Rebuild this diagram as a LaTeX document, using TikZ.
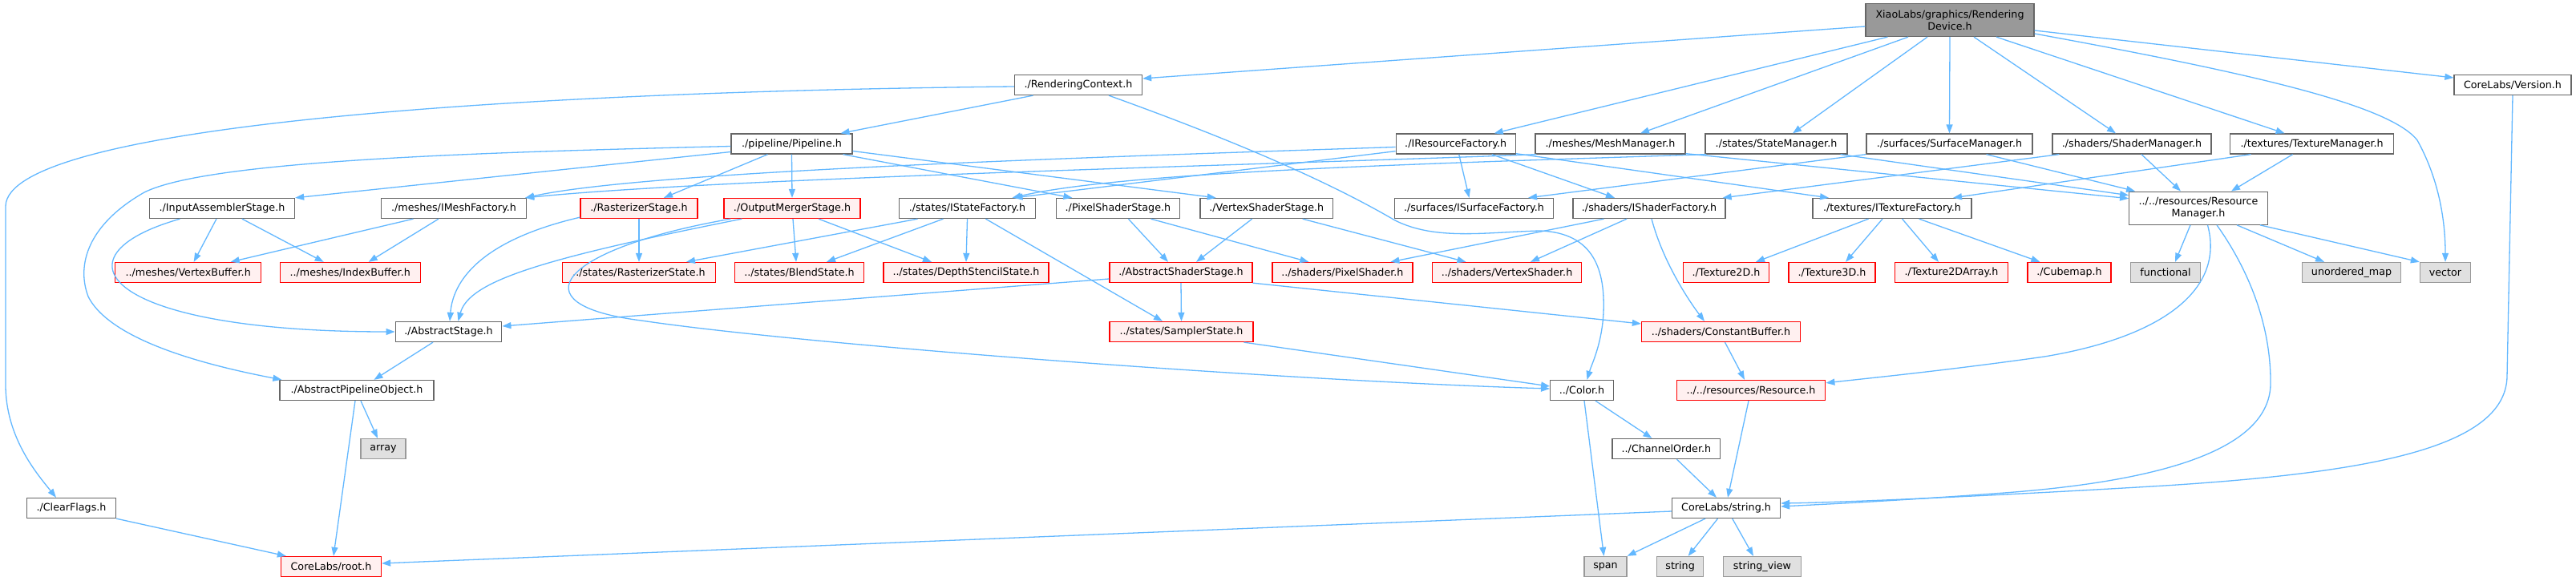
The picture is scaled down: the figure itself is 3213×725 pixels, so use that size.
\documentclass[tikz,border=0pt]{standalone}
\usepackage{fontspec}
\setmainfont{DejaVu Sans}
\usetikzlibrary{calc,arrows.meta}
\definecolor{edgec}{HTML}{63B8FF}
\definecolor{bordergray}{HTML}{666666}
\definecolor{lightborder}{HTML}{999999}
\definecolor{grayfill}{HTML}{E0E0E0}
\definecolor{redfill}{HTML}{FFF0F0}
\definecolor{rootfill}{HTML}{999999}
\newcommand\dvfont{\fontsize{12.7}{15}\selectfont}
\begin{document}
\begin{tikzpicture}[x=1pt,y=-1pt,
  nb/.style={draw=bordergray, fill=white, line width=1.3pt, minimum height=25pt, inner sep=0pt, font=\dvfont, text=black, align=center},
  nr/.style={nb, draw=red, fill=redfill},
  ng/.style={nb, draw=lightborder, fill=grayfill},
  e/.style={draw=edgec, line width=1.3pt, -{Triangle[length=11pt,width=8pt]}}]
\useasboundingbox (0,0) rectangle (3213,725);
\fill[white] (0,0) rectangle (3213,725);
% row 0-2
\node[nb, fill=rootfill, minimum width=210pt, minimum height=41pt] (rd) at (2432,25) {XiaoLabs/graphics/Rendering\\Device.h};
\node[nb, minimum width=159pt] (rc) at (1345,106) {./RenderingContext.h};
\node[nb, minimum width=146pt] (ver) at (3134,106) {CoreLabs/Version.h};
\node[nb, minimum width=151pt] (pipe) at (987.5,179.5) {./pipeline/Pipeline.h};
\node[nb, minimum width=149pt] (irf) at (1815.7,179.5) {./IResourceFactory.h};
\node[nb, minimum width=187pt] (mm) at (2008.5,179.5) {./meshes/MeshManager.h};
\node[nb, minimum width=177pt] (stm) at (2215.5,179.5) {./states/StateManager.h};
\node[nb, minimum width=207pt] (sfm) at (2431.5,179.5) {./surfaces/SurfaceManager.h};
\node[nb, minimum width=198pt] (shm) at (2659,179.5) {./shaders/ShaderManager.h};
\node[nb, minimum width=204pt] (tm) at (2883.6,179.5) {./textures/TextureManager.h};
% row 3
\node[nb, minimum width=181pt] (ias) at (277,260) {./InputAssemblerStage.h};
\node[nb, minimum width=181pt] (imf) at (566,260) {./meshes/IMeshFactory.h};
\node[nr, minimum width=146pt] (rs) at (797,260) {./RasterizerStage.h};
\node[nr, minimum width=170pt] (oms) at (988,260) {./OutputMergerStage.h};
\node[nb, minimum width=170pt] (isf) at (1206.5,260) {./states/IStateFactory.h};
\node[nb, minimum width=154pt] (pss) at (1394.4,260) {./PixelShaderStage.h};
\node[nb, minimum width=165.5pt] (vss) at (1579.7,260) {./VertexShaderStage.h};
\node[nb, minimum width=198pt] (isurf) at (1838.5,260) {./surfaces/ISurfaceFactory.h};
\node[nb, minimum width=190pt] (ishf) at (2057,260) {./shaders/IShaderFactory.h};
\node[nb, minimum width=198pt] (itf) at (2360,260) {./textures/ITextureFactory.h};
\node[nb, minimum width=172.6pt, minimum height=41pt] (rm) at (2742,259.7) {../../resources/Resource\\Manager.h};
% row 4
\node[nr, minimum width=182pt] (vb) at (234.7,340) {../meshes/VertexBuffer.h};
\node[nr, minimum width=175pt] (ib) at (436.7,340) {../meshes/IndexBuffer.h};
\node[nr, minimum width=191pt] (rst) at (797,340) {../states/RasterizerState.h};
\node[nr, minimum width=161pt] (bs) at (997,340) {../states/BlendState.h};
\node[nr, minimum width=206pt] (dss) at (1205,340) {../states/DepthStencilState.h};
\node[nr, minimum width=178pt] (ass) at (1473,340) {./AbstractShaderStage.h};
\node[nr, minimum width=175pt] (ps) at (1674.4,340) {../shaders/PixelShader.h};
\node[nr, minimum width=186pt] (vs) at (1879.5,340) {../shaders/VertexShader.h};
\node[nr, minimum width=107pt] (t2d) at (2153,340) {./Texture2D.h};
\node[nr, minimum width=108pt] (t3d) at (2285,340) {./Texture3D.h};
\node[nr, minimum width=141pt] (t2da) at (2434,340) {./Texture2DArray.h};
\node[nr, minimum width=104pt] (cube) at (2581,340) {./Cubemap.h};
\node[ng, minimum width=87pt] (func) at (2701,340) {functional};
\node[ng, minimum width=123.5pt] (umap) at (2933,340) {unordered\_map};
\node[ng, minimum width=63pt] (vec) at (3050,340) {vector};
% row 5-9
\node[nb, minimum width=132.6pt] (as) at (559.5,414) {./AbstractStage.h};
\node[nr, minimum width=179pt] (ss) at (1473.5,414) {../states/SamplerState.h};
\node[nr, minimum width=198pt] (cb) at (2146.5,414) {../shaders/ConstantBuffer.h};
\node[nb, minimum width=192pt] (apo) at (445,487) {./AbstractPipelineObject.h};
\node[nb, minimum width=78.6pt] (col) at (1973,487) {../Color.h};
\node[nr, minimum width=185.5pt] (res) at (2184,487) {../../resources/Resource.h};
\node[ng, minimum width=56pt] (arr) at (478,560) {array};
\node[nb, minimum width=134.7pt] (co) at (2078.4,560) {../ChannelOrder.h};
\node[nb, minimum width=111pt] (cf) at (89,634) {./ClearFlags.h};
\node[nb, minimum width=135pt] (str) at (2153,634) {CoreLabs/string.h};
\node[nr, minimum width=125pt] (root) at (413,707) {CoreLabs/root.h};
\node[ng, minimum width=53pt] (nspan) at (2002.5,707) {span};
\node[ng, minimum width=58pt] (nstring) at (2095.6,707) {string};
\node[ng, minimum width=97pt] (sv) at (2198,707) {string\_view};
% RD edges
\draw[e] ($(rd.west)+(0,8)$) -- ($(rc.east)+(0,-8)$);
\draw[e] ($(rd.south west)+(28,0)$) -- ($(irf.north)+(48,0)$);
\draw[e] ($(rd.south)+(-52,0)$) -- ($(mm.north)+(37.5,0)$);
\draw[e] ($(rd.south)+(-28,0)$) -- ($(stm.north)+(20.5,0)$);
\draw[e] (rd.south) -- (sfm.north);
\draw[e] ($(rd.south)+(30,0)$) -- ($(shm.north)+(-20,0)$);
\draw[e] ($(rd.south)+(58,0)$) -- ($(tm.north)+(-34,0)$);
\draw[e] ($(rd.east)+(0,13)$) -- ($(ver.west)+(0,-9)$);
\draw[e] ($(rd.east)+(0,17)$) .. controls (2800,90) and (2980,130) .. (3015,175) .. controls (3040,220) and (3050,270) .. (vec.north);
% RC edges
\draw[e] ($(rc.south)+(-56.5,0)$) -- ($(pipe.north)+(61,0)$);
\draw[e] ($(rc.west)+(0,2)$) .. controls (600,115) and (10,160) .. (7,257) -- (7,480) .. controls (7,545) and (45,590) .. ($(cf.north)+(-19,0)$);
\draw[e] ($(rc.south)+(38,0)$) .. controls (1580,190) and (1680,240) .. (1740,275) .. controls (1790,300) and (1850,290) .. (1920,288) .. controls (1990,290) and (2002,340) .. (2000,390) .. controls (1998,430) and (1985,455) .. ($(col.north)+(6.5,0)$);
% Pipeline edges
\draw[e] ($(pipe.west)+(0,3)$) .. controls (600,190) and (260,200) .. (180,240) .. controls (110,280) and (95,330) .. (110,370) .. controls (140,430) and (280,460) .. ($(apo.north west)+(3,0)$);
\draw[e] ($(pipe.west)+(0,10)$) -- (ias.north east);
\draw[e] ($(pipe.south)+(-30,0)$) -- ($(rs.north)+(31,0)$);
\draw[e] (pipe.south) -- (oms.north);
\draw[e] ($(pipe.south)+(64,0)$) -- ($(pss.north)+(-57,0)$);
\draw[e] ($(pipe.east)+(0,9)$) -- ($(vss.north)+(-63,0)$);
% IResourceFactory edges
\draw[e] ($(irf.west)+(0,4)$) .. controls (1300,198) and (800,215) .. ($(imf.north east)+(-2,0)$);
\draw[e] ($(irf.south west)+(0,-4)$) -- ($(isf.north)+(58,0)$);
\draw[e] ($(irf.south)+(4,0)$) -- ($(isurf.north)+(-6,0)$);
\draw[e] ($(irf.south)+(45,0)$) -- ($(ishf.north)+(-43,0)$);
\draw[e] ($(irf.south east)+(0,-1)$) -- ($(itf.north)+(-79,0)$);
% manager edges
\draw[e] ($(mm.south west)+(2,0)$) .. controls (1600,205) and (900,222) .. ($(imf.north east)+(-2,0)$);
\draw[e] ($(mm.south east)+(0,-1)$) -- ($(rm.west)+(0,-12)$);
\draw[e] ($(stm.south west)+(2,0)$) .. controls (1750,205) and (1400,215) .. ($(isf.north)+(56,0)$);
\draw[e] ($(stm.south)+(80,0)$) -- ($(rm.west)+(0,-16)$);
\draw[e] (sfm.south west) -- ($(isurf.north)+(67.5,0)$);
\draw[e] ($(sfm.south)+(46,0)$) -- ($(rm.north west)+(8,0)$);
\draw[e] ($(shm.south west)+(9,0)$) -- ($(ishf.north east)+(-4,0)$);
\draw[e] ($(shm.south)+(12,0)$) -- ($(rm.north)+(-22,0)$);
\draw[e] ($(tm.south)+(-76,0)$) -- ($(itf.north)+(76,0)$);
\draw[e] ($(tm.south)+(-24,0)$) -- ($(rm.north)+(41,0)$);
% row 3 to row 4
\draw[e] ($(ias.south)+(-7,0)$) -- ($(vb.north)+(7,0)$);
\draw[e] ($(ias.south)+(25,0)$) -- ($(ib.north)+(-33,0)$);
\draw[e] ($(ias.south)+(-52.5,0)$) .. controls (60,320) and (130,414) .. (as.west);
\draw[e] ($(imf.south)+(-50.5,0)$) -- ($(vb.north)+(53,0)$);
\draw[e] ($(imf.south)+(-19,0)$) -- ($(ib.north)+(23,0)$);
\draw[e] (rs.south) -- (rst.north);
\draw[e] ($(rs.south west)+(0,-2)$) .. controls (600,300) and (565,350) .. ($(as.north)+(1.5,0)$);
\draw[e] ($(oms.south west)+(23,0)$) .. controls (680,322) and (585,350) .. ($(as.north)+(12,0)$);
\draw[e] ($(oms.south west)+(9,0)$) .. controls (700,310) and (640,380) .. (800,400) .. controls (1000,430) and (1600,475) .. ($(col.west)+(0,-2)$);
\draw[e] ($(oms.south)+(1,0)$) -- ($(bs.north)+(-4,0)$);
\draw[e] ($(oms.south)+(33,0)$) -- ($(dss.north)+(-43,0)$);
\draw[e] ($(isf.south)+(-62,0)$) -- ($(rst.north)+(59,0)$);
\draw[e] ($(isf.south)+(-30,0)$) -- ($(bs.north)+(34,0)$);
\draw[e] (isf.south) -- (dss.north);
\draw[e] ($(isf.south)+(23,0)$) -- ($(ss.north)+(-23.5,0)$);
\draw[e] ($(pss.south)+(13,0)$) -- ($(ass.north)+(-16,0)$);
\draw[e] ($(pss.south)+(41,0)$) -- ($(ps.north)+(-42,0)$);
\draw[e] ($(vss.south)+(-18,0)$) -- ($(ass.north)+(19,0)$);
\draw[e] ($(vss.south)+(45,0)$) -- ($(vs.north)+(-51,0)$);
\draw[e] ($(ishf.south)+(-56.5,0)$) -- ($(ps.north)+(60,0)$);
\draw[e] ($(ishf.south)+(-28,0)$) -- ($(vs.north)+(29.5,0)$);
\draw[e] ($(ishf.south)+(3,0)$) .. controls (2075,330) and (2110,380) .. ($(cb.north)+(-20.5,0)$);
\draw[e] ($(itf.south)+(-29.5,0)$) -- ($(t2d.north)+(37,0)$);
\draw[e] ($(itf.south)+(-12,0)$) -- ($(t3d.north)+(17,0)$);
\draw[e] ($(itf.south)+(12.6,0)$) -- ($(t2da.north)+(-16,0)$);
\draw[e] ($(itf.south)+(33.6,0)$) -- ($(cube.north)+(-36.6,0)$);
\draw[e] ($(rm.south)+(-10,0)$) -- ($(func.north)+(12,0)$);
\draw[e] ($(rm.south)+(48,0)$) -- ($(umap.north)+(-34,0)$);
\draw[e] ($(rm.south east)+(-10,0)$) -- (vec.north west);
\draw[e] ($(rm.south)+(11.5,0)$) .. controls (2775,360) and (2700,420) .. (2550,445) .. controls (2430,462) and (2330,472) .. ($(res.north east)+(0,4)$);
\draw[e] ($(rm.south)+(23,0)$) .. controls (2800,330) and (2833,400) .. (2832,480) .. controls (2830,560) and (2700,600) .. (2500,615) .. controls (2350,626) and (2260,630) .. ($(str.east)+(0,-2)$);
\draw[e] (ver.south) -- (3127,470) .. controls (3125,560) and (2950,590) .. (2700,606) .. controls (2500,618) and (2300,627) .. ($(str.east)+(0,-6)$);
% lower edges
\draw[e] ($(as.south)+(-19.5,0)$) -- ($(apo.north)+(21.5,0)$);
\draw[e] ($(apo.south)+(5,0)$) -- ($(arr.north)+(-7,0)$);
\draw[e] ($(apo.south)+(-2,0)$) -- ($(root.north)+(3,0)$);
\draw[e] (cf.south east) -- ($(root.north west)+(7,0)$);
\draw[e] ($(ass.west)+(0,8)$) -- ($(as.east)+(0,-7)$);
\draw[e] (ass.south) -- (ss.north);
\draw[e] (ass.south east) -- ($(cb.west)+(0,-10)$);
\draw[e] ($(ss.south)+(78,0)$) -- ($(col.west)+(0,-5)$);
\draw[e] ($(cb.south)+(5,0)$) -- ($(res.north)+(-8,0)$);
\draw[e] ($(res.south)+(-3,0)$) -- ($(str.north)+(2,0)$);
\draw[e] ($(col.south)+(17,0)$) -- ($(co.north)+(-18,0)$);
\draw[e] ($(col.south)+(3,0)$) -- ($(nspan.north)+(-2,0)$);
\draw[e] ($(co.south)+(13,0)$) -- ($(str.north)+(-12,0)$);
\draw[e] ($(str.west)+(0,4)$) -- ($(root.east)+(0,-4)$);
\draw[e] ($(str.south)+(-26,0)$) -- (nspan.north east);
\draw[e] ($(str.south)+(-10.5,0)$) -- ($(nstring.north)+(10,0)$);
\draw[e] ($(str.south)+(7.7,0)$) -- ($(sv.north)+(-11,0)$);
\end{tikzpicture}
\end{document}
